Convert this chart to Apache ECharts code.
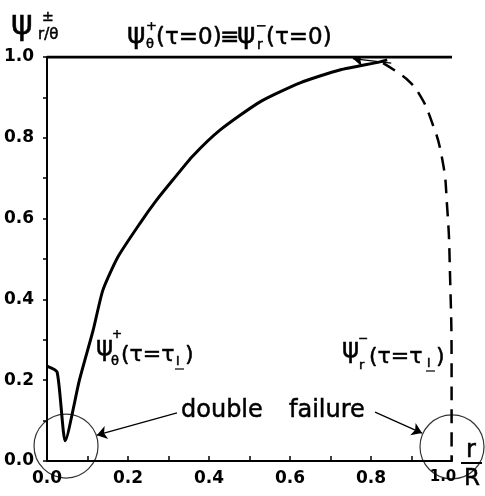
<!DOCTYPE html>
<html>
<head>
<meta charset="utf-8">
<script src="https://cdn.jsdelivr.net/npm/echarts@6/dist/echarts.min.js"></script>
<style>
  html, body { margin: 0; padding: 0; background: #fff; }
  #chart { width: 485px; height: 496px; }
</style>
</head>
<body>
<div id="chart"></div>
<script>
// psi at tau = 0 (both components coincide)
const rInit = [0, 1.0]
const psiInit = [1.0, 1.0]

// psi_theta+ at tau = tau_I (solid)
const rPlus = [0, 0.025, 0.045, 0.08, 0.114, 0.138, 0.175, 0.23, 0.27, 0.311, 0.36, 0.427, 0.526, 0.625, 0.723, 0.822, 0.84]
const psiPlus = [0.235, 0.22, 0.05, 0.2, 0.324, 0.423, 0.505, 0.589, 0.645, 0.696, 0.755, 0.819, 0.889, 0.936, 0.968, 0.988, 0.993]

// psi_r- at tau = tau_I (dashed)
const rMinus = [0.83, 0.864, 0.896, 0.921, 0.946, 0.975, 0.988, 0.995, 0.999, 0.999]
const psiMinus = [0.985, 0.963, 0.938, 0.905, 0.851, 0.752, 0.629, 0.465, 0.218, 0]

// "double failure" circles
const circleR = [0.047, 1.0]
const circlePsi = [0.037, 0.035]

// annotation arrows [from, to]
const arrowFrom = [[0.321, 0.119], [0.81, 0.121], [0.85, 0.985]]
const arrowTo = [[0.123, 0.064], [0.926, 0.069], [0.755, 0.996]]

const xTicks = [0, 0.2, 0.4, 0.6, 0.8, 1.0]
const yTicks = [0, 0.2, 0.4, 0.6, 0.8, 1.0]

const zip = (a, b) => a.map((v, i) => [v, b[i]])

const FONT = 'DejaVu Sans'
const txt = (x, y, s, size, align) => ({
  type: 'text',
  x: x,
  y: y,
  style: {
    text: s,
    font: size + 'px "' + FONT + '"',
    fill: '#000',
    stroke: '#000',
    lineWidth: 0.5,
    textAlign: align || 'left',
    textVerticalAlign: 'middle'
  }
})
const bar = (x1, y1, x2, y2, w) => ({
  type: 'line',
  shape: { x1: x1, y1: y1, x2: x2, y2: y2 },
  style: { stroke: '#000', lineWidth: w || 1.2 }
})

const chart = echarts.init(document.getElementById('chart'))

chart.setOption({
  animation: false,
  backgroundColor: '#fff',
  grid: { left: 47, right: 33, top: 57, bottom: 35 },
  xAxis: {
    type: 'value',
    min: xTicks[0],
    max: xTicks[xTicks.length - 1],
    interval: 0.2,
    axisLine: { lineStyle: { color: '#000', width: 2 } },
    axisTick: { inside: true, length: 5, lineStyle: { color: '#000', width: 1.5 } },
    minorTick: { show: true, splitNumber: 2, length: 5, lineStyle: { color: '#000', width: 1.5 } },
    axisLabel: {
      color: '#000',
      fontFamily: FONT,
      fontSize: 17,
      fontWeight: 'bold',
      margin: 9,
      formatter: (v) => v === 1 ? '{e|1.0}' : v.toFixed(1),
      rich: {
        e: { fontFamily: FONT, fontSize: 15, fontWeight: 'bold', color: '#000', padding: [0, 18, 0, 0] }
      }
    },
    splitLine: { show: false }
  },
  yAxis: {
    type: 'value',
    min: yTicks[0],
    max: yTicks[yTicks.length - 1],
    interval: 0.2,
    axisLine: { lineStyle: { color: '#000', width: 2 } },
    axisTick: { inside: false, length: 4, lineStyle: { color: '#000', width: 1.5 } },
    minorTick: { show: true, splitNumber: 2, length: 4, lineStyle: { color: '#000', width: 1.5 } },
    axisLabel: {
      color: '#000',
      fontFamily: FONT,
      fontSize: 17,
      fontWeight: 'bold',
      margin: 13,
      formatter: (v) => v.toFixed(1)
    },
    splitLine: { show: false }
  },
  series: [
    {
      type: 'line',
      data: zip(rInit, psiInit),
      symbol: 'none',
      lineStyle: { color: '#000', width: 3 }
    },
    {
      type: 'line',
      data: zip(rPlus, psiPlus),
      symbol: 'none',
      smooth: 0.2,
      lineStyle: { color: '#000', width: 3 }
    },
    {
      type: 'line',
      data: zip(rMinus, psiMinus),
      symbol: 'none',
      smooth: 0.5,
      lineStyle: { color: '#000', width: 2.5, type: [14, 9] }
    },
    {
      type: 'scatter',
      data: zip(circleR, circlePsi),
      symbol: 'circle',
      symbolSize: 64,
      clip: false,
      itemStyle: { color: 'rgba(0,0,0,0)', borderColor: '#000', borderWidth: 1.2 }
    },
    {
      type: 'lines',
      coordinateSystem: 'cartesian2d',
      data: arrowFrom.map((p, i) => ({ coords: [p, arrowTo[i]] })),
      symbol: ['none', 'arrow'],
      symbolSize: 10,
      lineStyle: { color: '#000', width: 1.2, opacity: 1 }
    }
  ],
  graphic: [
    // y axis name
    txt(11, 25, 'ψ', 33),
    txt(42, 17, '±', 14),
    txt(38, 35, 'r/θ', 15),
    // title
    txt(127, 36, 'ψ', 28),
    txt(146, 27, '+', 13),
    txt(146, 45, 'θ', 13),
    txt(156, 38, '(τ=0)', 23),
    txt(220, 38, '≡', 23),
    txt(237, 36, 'ψ', 28),
    txt(256, 27, '−', 13),
    txt(257, 45, 'r', 14),
    txt(266, 38, '(τ=0)', 23),
    // psi_theta+ label
    txt(96, 348, 'ψ', 26),
    txt(112, 335, '+', 12),
    txt(111, 362, 'θ', 13),
    txt(121, 355, '(τ=τ', 22),
    txt(176, 362, 'I', 12),
    bar(175, 369, 184, 369),
    txt(185, 355, ')', 22),
    // psi_r- label
    txt(342, 350, 'ψ', 26),
    txt(358, 339, '−', 12),
    txt(359, 366, 'r', 13),
    txt(369, 357, '(τ=τ', 22),
    txt(427, 364, 'I', 12),
    bar(426, 371, 435, 371),
    txt(436, 357, ')', 22),
    // double failure
    txt(181, 411, 'double', 24),
    txt(289, 411, 'failure', 24),
    // r / R
    txt(471, 451, 'r', 24, 'center'),
    bar(461, 463, 482, 463, 2),
    txt(472, 479, 'R', 23, 'center')
  ]
})
</script>
</body>
</html>
